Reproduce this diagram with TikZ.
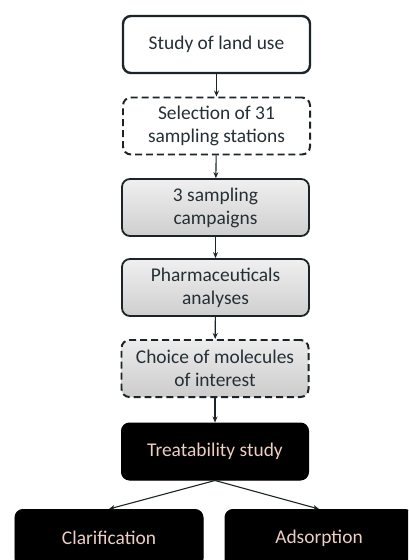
\documentclass[tikz,border=0pt]{standalone}
\usepackage{fontspec}
\setmainfont{Carlito}
\usetikzlibrary{arrows.meta}
\definecolor{txtdark}{RGB}{36,48,54}
\definecolor{txtlight}{RGB}{236,206,196}
\definecolor{edge}{RGB}{28,36,40}
\tikzset{
  base/.style={rounded corners=8pt, minimum width=187bp, minimum height=57bp, align=center,
    font=\fontsize{19.5}{23}\selectfont, inner sep=1pt},
  whitebox/.style={base, draw=edge, line width=2.4pt, fill=white, text=txtdark},
  dashbox/.style={base, draw=edge, line width=2pt, dash pattern=on 7pt off 4pt, text=txtdark},
  graybox/.style={base, draw=edge, line width=1.8pt, top color=gray!12, bottom color=gray!38, text=txtdark},
  blackbox/.style={base, draw=black, fill=black, text=txtlight, line width=1pt},
  arr/.style={-{Stealth[length=6pt,width=5pt]}, line width=1.1pt, draw=edge}
}
\begin{document}
\begin{tikzpicture}[x=1bp,y=-1bp]
\useasboundingbox (0,0) rectangle (408,560);
\clip (0,0) rectangle (408,560);
\fill[white] (0,0) rectangle (408,560);
\node[whitebox] (b1) at (216.5,44.5) {Study of land use};
\node[dashbox, fill=white] (b2) at (216.5,126) {Selection of 31\\sampling stations};
\node[graybox] (b3) at (215.5,207.5) {3 sampling\\campaigns};
\node[graybox] (b4) at (215.5,287.5) {Pharmaceuticals\\analyses};
\node[dashbox, top color=gray!15, bottom color=gray!40] (b5) at (215,368.5) {Choice of molecules\\of interest};
\node[blackbox] (b6) at (215,451.5) {Treatability study};
\node[blackbox, minimum width=188bp] (b7) at (109,538) {Clarification};
\node[blackbox, minimum width=188bp] (b8) at (319,538) {Adsorption};
\draw[arr] (b1) -- (b2);
\draw[arr] (b2) -- (b3);
\draw[arr] (b3) -- (b4);
\draw[arr] (b4) -- (b5);
\draw[arr] (b5) -- (b6);
\draw[arr] (b6.south) -- (b7.north);
\draw[arr] (b6.south) -- (b8.north);
\end{tikzpicture}
\end{document}
